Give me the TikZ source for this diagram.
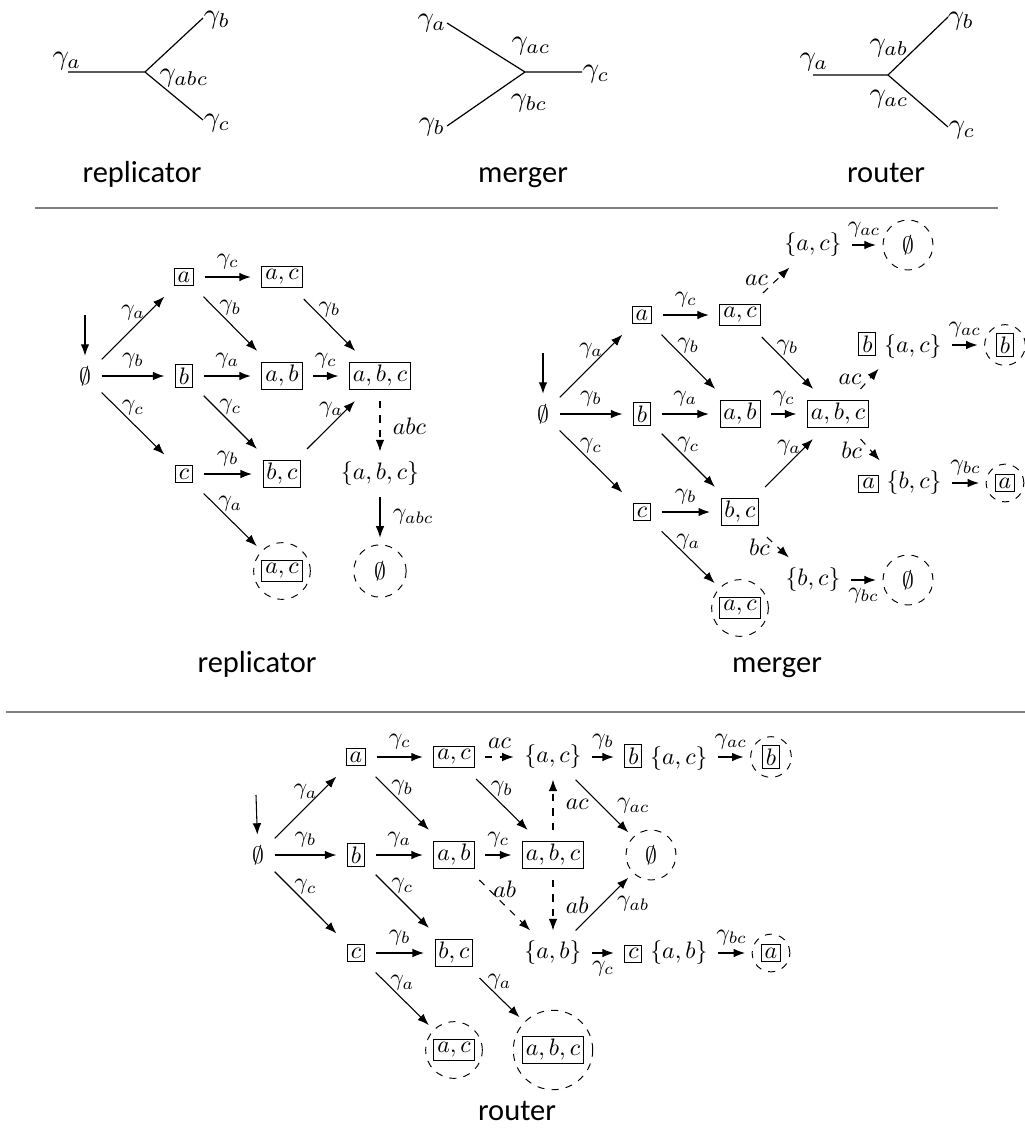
\documentclass[tikz,border=0pt]{standalone}
\usepackage{fontspec}
\newfontfamily\capfont{Carlito}
\usetikzlibrary{arrows.meta}
\newcommand{\bx}[1]{{\setlength{\fboxsep}{1.2pt}\setlength{\fboxrule}{0.4pt}\fbox{$#1$}}}
\tikzset{
  st/.style={inner sep=0pt, outer sep=4.5pt},
  dc/.style={circle, draw, dashed, inner sep=1pt, outer sep=3pt},
  ar/.style={-{Latex[length=4.8pt,width=3.6pt]}, line width=0.45pt},
  dar/.style={ar, dashed},
  lb/.style={inner sep=3.2pt},
  capt/.style={font=\capfont\fontsize{12.8}{15}\selectfont, anchor=base},
  hrule/.style={draw=black!50, line width=0.75pt},
  wire/.style={line width=0.5pt},
  tl/.style={scale=1.2, inner sep=0pt}
}
\begin{document}
\begin{tikzpicture}[x=0.42pt, y=-0.42pt]
\useasboundingbox (0,0) rectangle (1025,1135);

% ---------------- top: replicator ----------------
\coordinate (tr0) at (68,72);
\coordinate (trm) at (145,72);
\coordinate (trb) at (203,18);
\coordinate (trc) at (203,120);
\draw[wire] (tr0) -- (trm) -- (trb);
\draw[wire] (trm) -- (trc);
\node[tl] (trla) at (67,61) {$\gamma_a$};
\node[tl] (trlb) at (217,20) {$\gamma_b$};
\node[tl] (trlc) at (217,123) {$\gamma_c$};
\node[tl] (trlm) at (184,78) {$\gamma_{abc}$};
\node[capt] (trcap) at (142,182) {replicator};

% ---------------- top: merger ----------------
\coordinate (tma) at (447,23);
\coordinate (tmb) at (447,126);
\coordinate (tmm) at (525,72);
\coordinate (tmc) at (582,72);
\draw[wire] (tma) -- (tmm) -- (tmc);
\draw[wire] (tmb) -- (tmm);
\node[tl] (tmla) at (432,23) {$\gamma_a$};
\node[tl] (tmlb) at (432,127) {$\gamma_b$};
\node[tl] (tmlc) at (596,74) {$\gamma_c$};
\node[tl] (tmlac) at (531,46) {$\gamma_{ac}$};
\node[tl] (tmlbc) at (529,103) {$\gamma_{bc}$};
\node[capt] (tmcap) at (523,182) {merger};

% ---------------- top: router ----------------
\coordinate (tu0) at (813,75);
\coordinate (tum) at (888,75);
\coordinate (tub) at (948,17);
\coordinate (tuc) at (948,127);
\draw[wire] (tu0) -- (tum) -- (tub);
\draw[wire] (tum) -- (tuc);
\node[tl] (tula) at (814,62) {$\gamma_a$};
\node[tl] (tulb) at (961,21) {$\gamma_b$};
\node[tl] (tulc) at (962,130) {$\gamma_c$};
\node[tl] (tulab) at (889,48) {$\gamma_{ab}$};
\node[tl] (tulac) at (889,99) {$\gamma_{ac}$};
\node[capt] (tucap) at (886,182) {router};

% rules
\coordinate (ruA) at (35,208);
\coordinate (ruB) at (998,208);
\draw[hrule] (ruA) -- (ruB);
\coordinate (ruC) at (6,712);
\coordinate (ruD) at (1025,712);
\draw[hrule] (ruC) -- (ruD);

% ---------------- replicator graph ----------------
\coordinate (rin) at (85,315);
\node[st] (r0) at (85,376) {$\emptyset$};
\node[st] (ra) at (184,277) {\bx{a}};
\node[st] (rac) at (282,277) {\bx{a,c}};
\node[st] (rb) at (184,376) {\bx{b}};
\node[st] (rab) at (282,376) {\bx{a,b}};
\node[st] (rabc) at (380,376) {\bx{a,b,c}};
\node[st] (rc) at (184,474) {\bx{c}};
\node[st] (rbc) at (282,474) {\bx{b,c}};
\node[st] (rS) at (380,474) {$\{a,b,c\}$};
\node[dc, inner sep=1.5pt] (rf1) at (282,571) {\bx{a,c}};
\node[dc, minimum size=22pt] (rf2) at (380,571) {$\emptyset$};
\draw[ar] (rin) -- (r0);
\draw[ar] (r0) -- node[lb,above]{$\gamma_a$} (ra);
\draw[ar] (r0) -- node[lb,above]{$\gamma_b$} (rb);
\draw[ar] (r0) -- node[lb,above]{$\gamma_c$} (rc);
\draw[ar] (ra) -- node[lb,above]{$\gamma_c$} (rac);
\draw[ar] (ra) -- node[lb,above]{$\gamma_b$} (rab);
\draw[ar] (rac) -- node[lb,above]{$\gamma_b$} (rabc);
\draw[ar] (rb) -- node[lb,above]{$\gamma_a$} (rab);
\draw[ar] (rab) -- node[lb,above]{$\gamma_c$} (rabc);
\draw[ar] (rb) -- node[lb,above]{$\gamma_c$} (rbc);
\draw[ar] (rbc) -- node[lb,above]{$\gamma_a$} (rabc);
\draw[ar] (rc) -- node[lb,above]{$\gamma_b$} (rbc);
\draw[ar] (rc) -- node[lb,above]{$\gamma_a$} (rf1);
\draw[dar] (rabc) -- node[lb,right=2pt]{$abc$} (rS);
\draw[ar] (rS) -- node[lb,right=2pt]{$\gamma_{abc}$} (rf2);
\node[capt] (rcap) at (257,672) {replicator};

% ---------------- merger graph ----------------
\coordinate (min) at (543,353);
\node[st] (m0) at (543,414) {$\emptyset$};
\node[st] (ma) at (642,315) {\bx{a}};
\node[st] (mac) at (740,315) {\bx{a,c}};
\node[st] (mb) at (642,414) {\bx{b}};
\node[st] (mab) at (740,414) {\bx{a,b}};
\node[st] (mabc) at (838,414) {\bx{a,b,c}};
\node[st] (mc) at (642,512) {\bx{c}};
\node[st] (mbc) at (740,512) {\bx{b,c}};
\node[dc, inner sep=1.5pt] (mf) at (740,608) {\bx{a,c}};
\node[st] (mAC) at (813,245) {$\{a,c\}$};
\node[dc, minimum size=21pt] (mf1) at (908,245) {$\emptyset$};
\node[st] (mBAC) at (900,345) {\bx{b} $\{a,c\}$};
\node[dc, inner sep=1.6pt] (mf2) at (1005,345) {\bx{b}};
\node[st] (mABC) at (900,483) {\bx{a} $\{b,c\}$};
\node[dc, inner sep=1.6pt] (mf3) at (1005,483) {\bx{a}};
\node[st] (mBC) at (813,580) {$\{b,c\}$};
\node[dc, minimum size=21pt] (mf4) at (908,580) {$\emptyset$};
\draw[ar] (min) -- (m0);
\draw[ar] (m0) -- node[lb,above]{$\gamma_a$} (ma);
\draw[ar] (m0) -- node[lb,above]{$\gamma_b$} (mb);
\draw[ar] (m0) -- node[lb,above]{$\gamma_c$} (mc);
\draw[ar] (ma) -- node[lb,above]{$\gamma_c$} (mac);
\draw[ar] (ma) -- node[lb,above]{$\gamma_b$} (mab);
\draw[ar] (mac) -- node[lb,above]{$\gamma_b$} (mabc);
\draw[ar] (mb) -- node[lb,above]{$\gamma_a$} (mab);
\draw[ar] (mab) -- node[lb,above]{$\gamma_c$} (mabc);
\draw[ar] (mb) -- node[lb,above]{$\gamma_c$} (mbc);
\draw[ar] (mbc) -- node[lb,above]{$\gamma_a$} (mabc);
\draw[ar] (mc) -- node[lb,above]{$\gamma_b$} (mbc);
\draw[ar] (mc) -- node[lb,above]{$\gamma_a$} (mf);
\draw[dar] (mac) -- node[lb,left]{$ac$} (mAC);
\draw[ar] (mAC) -- node[lb,above]{$\gamma_{ac}$} (mf1);
\draw[dar] (mabc) -- node[lb,left]{$ac$} (mBAC);
\draw[ar] (mBAC) -- node[lb,above]{$\gamma_{ac}$} (mf2);
\draw[dar] (mabc) -- node[lb,left]{$bc$} (mABC);
\draw[ar] (mABC) -- node[lb,above]{$\gamma_{bc}$} (mf3);
\draw[dar] (mbc) -- node[lb,left]{$bc$} (mBC);
\draw[ar] (mBC) -- node[lb,below]{$\gamma_{bc}$} (mf4);
\node[capt] (mcap) at (777,672) {merger};

% ---------------- router graph ----------------
\coordinate (uin) at (256,795);
\node[st] (u0) at (258,855) {$\emptyset$};
\node[st] (ua) at (356,757) {\bx{a}};
\node[st] (uac) at (454,757) {\bx{a,c}};
\node[st] (uAC) at (553,757) {$\{a,c\}$};
\node[st] (uBAC) at (666,757) {\bx{b} $\{a,c\}$};
\node[dc, inner sep=1.6pt] (uf3) at (771,757) {\bx{b}};
\node[st] (ub) at (356,855) {\bx{b}};
\node[st] (uab) at (454,855) {\bx{a,b}};
\node[st] (uabc) at (553,855) {\bx{a,b,c}};
\node[dc, minimum size=21pt] (uE) at (651,855) {$\emptyset$};
\node[st] (uc) at (356,953) {\bx{c}};
\node[st] (ubc) at (454,953) {\bx{b,c}};
\node[st] (uAB) at (553,953) {$\{a,b\}$};
\node[st] (uCAB) at (666,953) {\bx{c} $\{a,b\}$};
\node[dc, inner sep=1.6pt] (uf4) at (771,953) {\bx{a}};
\node[dc, inner sep=1.5pt] (uf1) at (454,1050) {\bx{a,c}};
\node[dc, inner sep=1.8pt] (uf2) at (553,1050) {\bx{a,b,c}};
\draw[ar] (uin) -- (u0);
\draw[ar] (u0) -- node[lb,above]{$\gamma_a$} (ua);
\draw[ar] (u0) -- node[lb,above]{$\gamma_b$} (ub);
\draw[ar] (u0) -- node[lb,above]{$\gamma_c$} (uc);
\draw[ar] (ua) -- node[lb,above]{$\gamma_c$} (uac);
\draw[ar] (ua) -- node[lb,above]{$\gamma_b$} (uab);
\draw[ar] (uac) -- node[lb,above]{$\gamma_b$} (uabc);
\draw[ar] (ub) -- node[lb,above]{$\gamma_a$} (uab);
\draw[ar] (uab) -- node[lb,above]{$\gamma_c$} (uabc);
\draw[ar] (ub) -- node[lb,above]{$\gamma_c$} (ubc);
\draw[ar] (uc) -- node[lb,above]{$\gamma_b$} (ubc);
\draw[ar] (uc) -- node[lb,above]{$\gamma_a$} (uf1);
\draw[ar] (ubc) -- node[lb,above]{$\gamma_a$} (uf2);
\draw[dar] (uac) -- node[lb,above]{$ac$} (uAC);
\draw[ar] (uAC) -- node[lb,above]{$\gamma_b$} (uBAC);
\draw[ar] (uBAC) -- node[lb,above]{$\gamma_{ac}$} (uf3);
\draw[ar] (uAC) -- node[lb,right=3pt]{$\gamma_{ac}$} (uE);
\draw[dar] (uabc) -- node[lb,right=2pt]{$ac$} (uAC);
\draw[dar] (uabc) -- node[lb,right=2pt]{$ab$} (uAB);
\draw[dar] (uab) -- node[lb,above]{$ab$} (uAB);
\draw[ar] (uAB) -- node[lb,right=3pt]{$\gamma_{ab}$} (uE);
\draw[ar] (uAB) -- node[lb,below]{$\gamma_c$} (uCAB);
\draw[ar] (uCAB) -- node[lb,above]{$\gamma_{bc}$} (uf4);
\node[capt] (ucap) at (517,1120) {router};
\end{tikzpicture}
\end{document}
